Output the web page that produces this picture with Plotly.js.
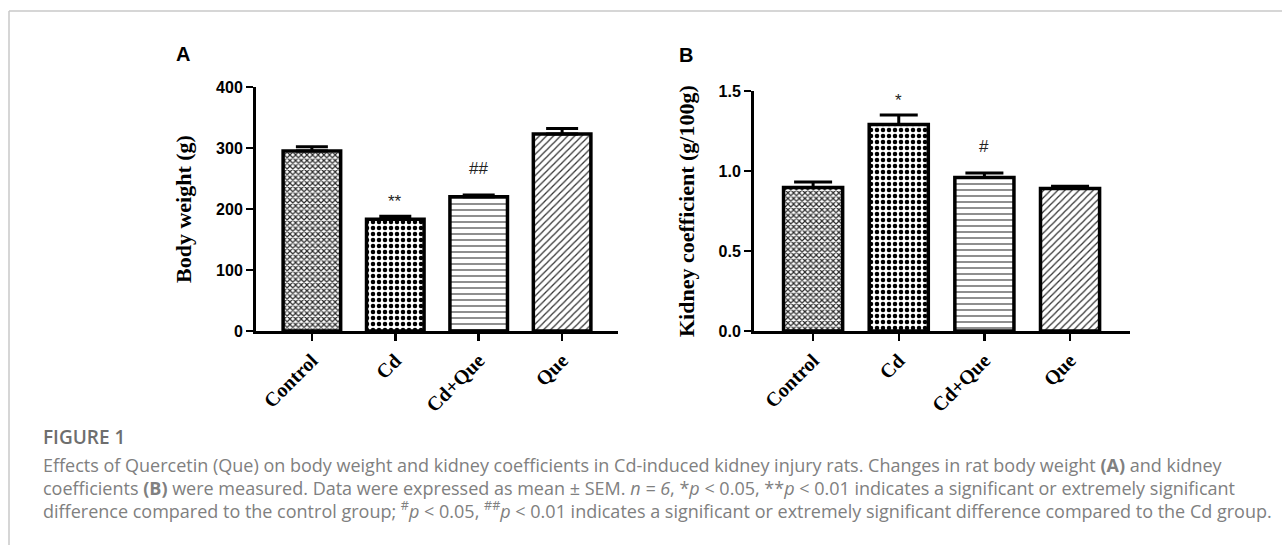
<!DOCTYPE html>
<html>
<head>
<meta charset="utf-8">
<script src="https://cdn.plot.ly/plotly-3.0.1.min.js"></script>
<style>html,body{margin:0;padding:0;background:#fff;}#chart{width:1282px;height:545px;}</style>
</head>
<body>
<div id="chart"></div>
<script>
// ---- data ----
const categories = ["Control", "Cd", "Cd+Que", "Que"];
const bodyWeight = [295, 183, 220, 323];
const bodyWeightSEM = [7, 5, 3, 9];
const kidneyCoef = [0.897, 1.29, 0.96, 0.89];
const kidneyCoefSEM = [0.034, 0.06, 0.027, 0.014];
const sigA = ["", "**", "##", ""];
const sigB = ["", "*", "#", ""];
const yTitleA = "Body weight (g)";
const yTitleB = "Kidney coefficient (g/100g)";
const yTicksA = [0, 100, 200, 300, 400];
const yTicksB = [0, 0.5, 1.0, 1.5];
const yTickTextB = ["0.0", "0.5", "1.0", "1.5"];

// ---- geometry helpers (pixel -> paper) ----
const W = 1282, H = 545;
const px = v => v / W;
const py = v => 1 - v / H;

const patterns = [
  {shape: "x", fgcolor: "#2a2a2a", bgcolor: "#ffffff", size: 4, solidity: 0.5},
  {shape: ".", fgcolor: "#000000", bgcolor: "#ffffff", size: 6, solidity: 0.45},
  {shape: "-", fgcolor: "#555555", bgcolor: "#ffffff", size: 6, solidity: 0.22},
  {shape: "/", fgcolor: "#333333", bgcolor: "#ffffff", size: 5, solidity: 0.25}
];

function barTraces(vals, sem, xa, ya, capW) {
  return categories.map((c, i) => ({
    type: "bar",
    x: [c], y: [vals[i]],
    xaxis: xa, yaxis: ya,
    width: 0.69,
    marker: {color: "#ffffff", pattern: patterns[i], line: {color: "#000", width: 3.5}},
    error_y: {type: "data", symmetric: false, array: [sem[i]], arrayminus: [0],
              color: "#000", thickness: 3, width: capW},
    showlegend: false, hoverinfo: "skip"
  }));
}

const data = [
  ...barTraces(bodyWeight, bodyWeightSEM, "x", "y", 16),
  ...barTraces(kidneyCoef, kidneyCoefSEM, "x2", "y2", 19)
];

const tickFontX = {family: "Liberation Serif", size: 20, color: "#000", weight: "bold"};
const tickFontY = {family: "Liberation Sans", size: 16, color: "#000", weight: "bold"};

const xCommon = {
  type: "category", categoryorder: "array", categoryarray: categories,
  showline: true, linewidth: 3, linecolor: "#000",
  ticks: "outside", ticklen: 7, tickwidth: 2.5, tickcolor: "#000",
  tickangle: -45, tickfont: tickFontX, showgrid: false, zeroline: false,
  range: [-0.67, 3.67], fixedrange: true
};
const yCommon = {
  showline: true, linewidth: 3, linecolor: "#000",
  ticks: "outside", ticklen: 7, tickwidth: 2.5, tickcolor: "#000",
  tickfont: tickFontY, showgrid: false, zeroline: false, fixedrange: true
};

const annotations = [];
// significance marks
function sigMarks(labels, vals, sem, xa, ya) {
  labels.forEach((s, i) => {
    if (!s) return;
    annotations.push({
      xref: xa, yref: ya, x: categories[i], y: vals[i] + sem[i],
      text: s, showarrow: false, yanchor: "bottom", xanchor: "center",
      yshift: s.indexOf("#") >= 0 ? 15 : 3,
      font: {family: "Liberation Sans", size: 17, color: "#222"}
    });
  });
}
sigMarks(sigA, bodyWeight, bodyWeightSEM, "x", "y");
sigMarks(sigB, kidneyCoef, kidneyCoefSEM, "x2", "y2");

// y axis titles
annotations.push({xref: "paper", yref: "paper", x: px(184), y: py(209), text: yTitleA,
  textangle: -90, showarrow: false, xanchor: "center", yanchor: "middle",
  font: {family: "Liberation Serif", size: 22, color: "#000", weight: "bold"}});
annotations.push({xref: "paper", yref: "paper", x: px(686), y: py(211), text: yTitleB,
  textangle: -90, showarrow: false, xanchor: "center", yanchor: "middle",
  font: {family: "Liberation Serif", size: 22, color: "#000", weight: "bold"}});

// panel letters
annotations.push({xref: "paper", yref: "paper", x: px(183), y: py(54), text: "<b>A</b>",
  showarrow: false, xanchor: "center", yanchor: "middle",
  font: {family: "Liberation Sans", size: 20, color: "#000"}});
annotations.push({xref: "paper", yref: "paper", x: px(686), y: py(55), text: "<b>B</b>",
  showarrow: false, xanchor: "center", yanchor: "middle",
  font: {family: "Liberation Sans", size: 20, color: "#000"}});

// caption
const capFont = {family: "Open Sans", size: 18, color: "#808080"};
annotations.push({xref: "paper", yref: "paper", x: px(41), y: py(452), text: "FIGURE 1",
  showarrow: false, xanchor: "left", yanchor: "bottom",
  font: {family: "Open Sans", size: 19, color: "#6e6e6e", weight: 600}});
const capLines = [
  "Effects of Quercetin (Que) on body weight and kidney coefficients in Cd-induced kidney injury rats. Changes in rat body weight <b>(A)</b> and kidney",
  "coefficients <b>(B)</b> were measured. Data were expressed as mean ± SEM. <i>n = 6</i>, *<i>p</i> &lt; 0.05, **<i>p</i> &lt; 0.01 indicates a significant or extremely significant",
  "difference compared to the control group; <sup>#</sup><i>p</i> &lt; 0.05, <sup>##</sup><i>p</i> &lt; 0.01 indicates a significant or extremely significant difference compared to the Cd group."
];
capLines.forEach((t, i) => {
  annotations.push({xref: "paper", yref: "paper", x: px(41), y: py(479 + 23 * i), text: t,
    showarrow: false, xanchor: "left", yanchor: "bottom", align: "left", font: capFont});
});

const layout = {
  width: W, height: H,
  margin: {l: 0, r: 0, t: 0, b: 0},
  paper_bgcolor: "#fff", plot_bgcolor: "rgba(0,0,0,0)",
  showlegend: false, bargap: 0.3,
  xaxis: Object.assign({}, xCommon, {domain: [px(256), px(618)], anchor: "y"}),
  yaxis: Object.assign({}, yCommon, {domain: [py(331), py(87)], range: [0, 400],
    tickvals: yTicksA, anchor: "x"}),
  xaxis2: Object.assign({}, xCommon, {domain: [px(754), px(1130)], anchor: "y2", range: [-0.69, 3.7]}),
  yaxis2: Object.assign({}, yCommon, {domain: [py(331), py(91)], range: [0, 1.5],
    tickvals: yTicksB, ticktext: yTickTextB, anchor: "x2"}),
  annotations: annotations,
  shapes: [
    {type: "line", xref: "paper", yref: "paper", x0: px(9), x1: 1, y0: py(11), y1: py(11),
     line: {color: "#c8c8c8", width: 1.5}},
    {type: "line", xref: "paper", yref: "paper", x0: px(9), x1: px(9), y0: py(11), y1: 0,
     line: {color: "#c8c8c8", width: 1.5}}
  ]
};

Plotly.newPlot("chart", data, layout, {staticPlot: true, displayModeBar: false});
</script>
</body>
</html>
